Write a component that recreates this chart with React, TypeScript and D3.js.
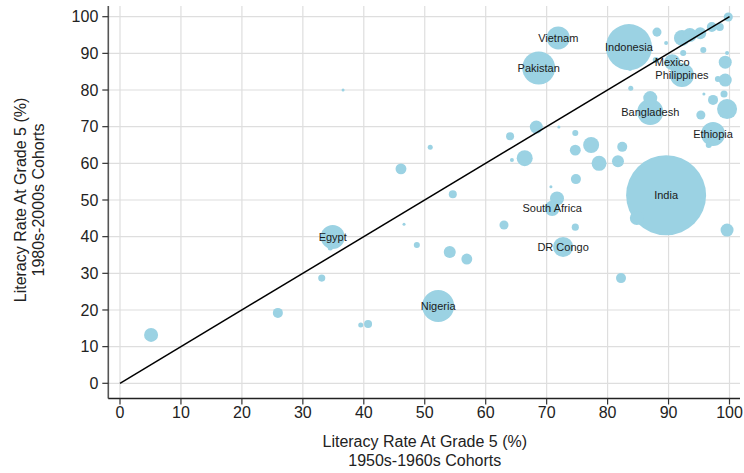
import React from "react";
import * as d3 from "d3";

// Unlabelled countries: [x (1950s-60s), y (1980s-2000s), population weight]
const countryX: number[] = [
  5.1, 25.9, 33.1, 34.5, 36.6, 46.1, 50.9, 54.6, 46.6, 48.7, 54.1, 56.9, 39.5, 40.7,
  68.3, 64.0, 72.0, 74.7, 77.3, 74.7, 82.4, 66.4, 64.3, 78.6, 81.7, 74.8, 70.7, 63.0,
  74.7, 82.2, 84.8, 99.6, 71.7,
  88.1, 89.6, 83.7, 83.8, 92.2, 93.5, 95.2, 97.1, 98.4, 99.8, 95.7, 92.4, 99.6, 99.3,
  87.9, 98.1, 99.3, 95.8, 99.1, 97.3, 87.0, 95.3, 99.6, 96.6,
];
const countryY: number[] = [
  13.2, 19.2, 28.7, 36.9, 80.0, 58.5, 64.4, 51.6, 43.4, 37.7, 35.8, 33.9, 15.9, 16.2,
  69.9, 67.4, 69.9, 68.3, 65.0, 63.6, 64.5, 61.4, 60.9, 60.0, 60.6, 55.7, 53.6, 43.2,
  42.6, 28.7, 45.1, 41.8, 50.4,
  95.8, 92.8, 85.7, 80.5, 94.2, 95.0, 95.5, 97.2, 97.2, 99.9, 90.9, 90.1, 90.1, 87.6,
  88.2, 83.0, 82.7, 78.9, 78.9, 77.3, 77.8, 73.2, 74.8, 65.0,
];
const countryPop: number[] = [
  43, 22, 11, 5.5, 2, 26, 5.5, 14, 2, 8, 31.5, 26, 5.5, 14,
  37, 14, 2, 8, 56, 26, 22, 56, 3.5, 49, 31.5, 22, 2, 18,
  11, 22, 43, 37, 43,
  18, 3.5, 3.5, 5.5, 56, 43, 31.5, 22, 14, 18, 8, 8, 3.5, 37,
  8, 8, 37, 2, 11, 22, 43, 18, 88, 8,
];

// Labelled countries
const namedCountries: string[] = [
  "India", "Indonesia", "Pakistan", "Nigeria", "Bangladesh", "Egypt",
  "Philippines", "Vietnam", "Ethiopia", "DR Congo", "Mexico", "South Africa",
];
const namedX: number[] = [89.6, 83.5, 68.7, 52.2, 87.0, 34.9, 92.2, 71.9, 97.3, 72.7, 90.6, 70.9];
const namedY: number[] = [51.3, 91.7, 86.0, 21.1, 74.0, 39.9, 84.1, 94.2, 68.0, 37.2, 87.6, 47.7];
const namedPop: number[] = [1400, 463, 238, 224, 148, 126, 126, 116, 126, 88, 56, 50];

const xTicks: number[] = [0, 10, 20, 30, 40, 50, 60, 70, 80, 90, 100];
const yTicks: number[] = [0, 10, 20, 30, 40, 50, 60, 70, 80, 90, 100];

const xTitle = ["Literacy Rate At Grade 5 (%)", "1950s-1960s Cohorts"];
const yTitle = ["Literacy Rate At Grade 5 (%)", "1980s-2000s Cohorts"];

const W = 744;
const H = 473;
const FONT = "'Liberation Sans', Arial, sans-serif";
const BUBBLE = "#9bd2e3";
const GRID = "#dedede";

export default function App() {
  const x = d3.scaleLinear().domain([0, 100]).range([120, 729.5]);
  const y = d3.scaleLinear().domain([0, 100]).range([383.3, 16.7]);
  const r = d3.scaleSqrt().domain([0, 1400]).range([0, 40]);

  const axisLeft = 108.3;
  const axisBottom = 398.5;
  const plotTop = 6;
  const plotRight = 740;

  const points = [
    ...countryX.map((v, i) => ({ x: v, y: countryY[i], p: countryPop[i], name: "" })),
    ...namedX.map((v, i) => ({ x: v, y: namedY[i], p: namedPop[i], name: namedCountries[i] })),
  ].sort((a, b) => b.p - a.p);

  const diag = d3.line<number>().x((d) => x(d)).y((d) => y(d));

  return (
    <svg
      width={W}
      height={H}
      style={{ position: "absolute", left: 0, top: 0, background: "#fff" }}
      fontFamily={FONT}
    >
      <rect x={0} y={0} width={W} height={H} fill="#fff" />
      {/* grid */}
      {xTicks.map((t) => (
        <line key={"gx" + t} x1={x(t)} x2={x(t)} y1={plotTop} y2={axisBottom} stroke={GRID} strokeWidth={1.2} />
      ))}
      {yTicks.map((t) => (
        <line key={"gy" + t} x1={axisLeft} x2={plotRight} y1={y(t)} y2={y(t)} stroke={GRID} strokeWidth={1.2} />
      ))}
      {/* bubbles */}
      {points.map((d, i) => (
        <circle key={"c" + i} cx={x(d.x)} cy={y(d.y)} r={r(d.p)} fill={BUBBLE} />
      ))}
      {/* 45 degree line */}
      <path d={diag([0, 100]) || ""} stroke="#000" strokeWidth={1.5} fill="none" />
      {/* labels */}
      {namedCountries.map((n, i) => (
        <text
          key={"l" + n}
          x={x(namedX[i])}
          y={y(namedY[i])}
          dy="0.35em"
          textAnchor="middle"
          fontSize={11}
          fill="#1a1a1a"
        >
          {n}
        </text>
      ))}
      {/* axes */}
      <line x1={axisLeft} x2={axisLeft} y1={plotTop} y2={axisBottom} stroke="#555" strokeWidth={1.6} />
      <line x1={axisLeft} x2={plotRight} y1={axisBottom} y2={axisBottom} stroke="#222" strokeWidth={1.4} />
      {yTicks.map((t) => (
        <g key={"yt" + t}>
          <line x1={axisLeft - 6} x2={axisLeft} y1={y(t)} y2={y(t)} stroke="#333" strokeWidth={1.2} />
          <text x={axisLeft - 10} y={y(t)} dy="0.35em" textAnchor="end" fontSize={16} fill="#222">
            {t}
          </text>
        </g>
      ))}
      {xTicks.map((t) => (
        <g key={"xt" + t}>
          <line x1={x(t)} x2={x(t)} y1={axisBottom} y2={axisBottom + 6} stroke="#333" strokeWidth={1.2} />
          <text x={x(t)} y={axisBottom + 19} textAnchor="middle" fontSize={16} fill="#222">
            {t}
          </text>
        </g>
      ))}
      {/* titles */}
      <text x={(x(0) + x(100)) / 2} y={447} textAnchor="middle" fontSize={16} fill="#222">
        {xTitle[0]}
      </text>
      <text x={(x(0) + x(100)) / 2} y={466} textAnchor="middle" fontSize={16} fill="#222">
        {xTitle[1]}
      </text>
      <g transform={`translate(26, ${(y(0) + y(100)) / 2}) rotate(-90)`}>
        <text x={0} y={0} textAnchor="middle" fontSize={16} fill="#222">
          {yTitle[0]}
        </text>
        <text x={0} y={18} textAnchor="middle" fontSize={16} fill="#222">
          {yTitle[1]}
        </text>
      </g>
    </svg>
  );
}
